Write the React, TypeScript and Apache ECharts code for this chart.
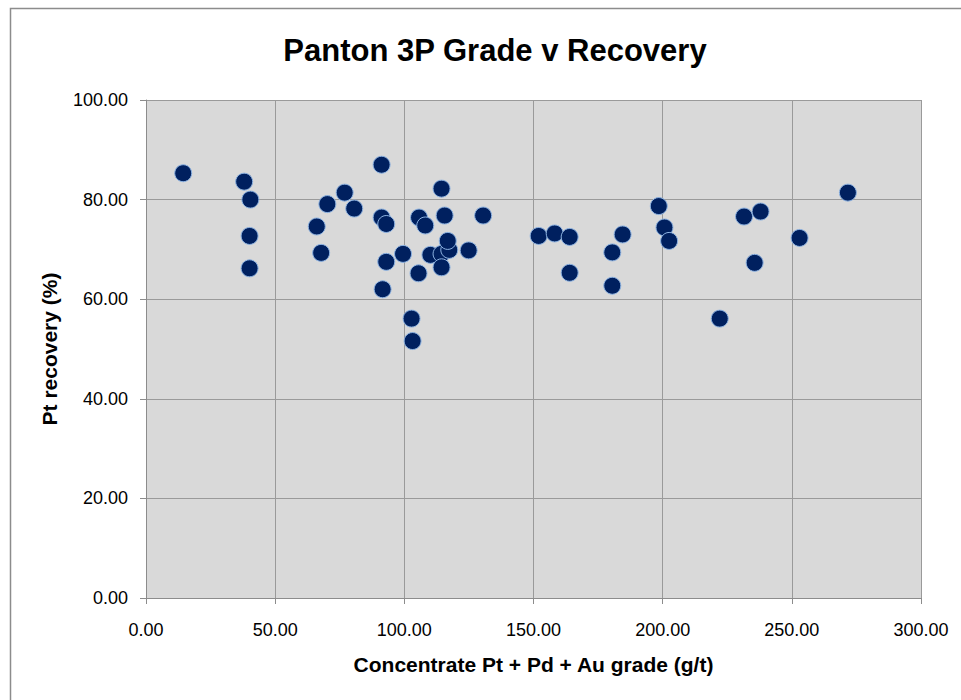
import React, { useEffect, useRef } from "react";
import * as echarts from "echarts";

const title = "Panton 3P Grade v Recovery";
const xAxisName = "Concentrate Pt + Pd + Au grade (g/t)";
const yAxisName = "Pt recovery (%)";

const grade = [
  14.4, 38.0, 40.4, 40.1, 40.1, 91.2, 76.9, 70.2, 80.6, 66.1, 67.8, 91.2, 93.0, 99.5, 93.0, 91.6,
  105.7, 108.1, 105.5, 102.8, 103.2, 110.1, 114.4, 115.6, 130.5, 114.4, 117.4, 116.8, 124.9, 114.4,
  152.0, 158.2, 164.0, 164.0, 184.5, 180.5, 180.5, 198.5, 200.7, 202.5, 222.1, 231.5, 237.9, 235.6,
  253.0, 271.7,
];
const recovery = [
  85.3, 83.6, 80.0, 72.7, 66.2, 87.0, 81.4, 79.1, 78.2, 74.6, 69.3, 76.4, 75.1, 69.1, 67.5, 62.0,
  76.4, 74.8, 65.2, 56.1, 51.6, 68.9, 82.2, 76.8, 76.8, 69.1, 69.9, 71.7, 69.8, 66.4,
  72.7, 73.2, 72.5, 65.3, 73.0, 69.4, 62.7, 78.7, 74.4, 71.7, 56.1, 76.6, 77.6, 67.3,
  72.3, 81.4,
];

export default function App() {
  const ref = useRef<HTMLDivElement>(null);
  useEffect(() => {
    if (!ref.current) return;
    const chart = echarts.init(ref.current, null, { renderer: "svg" });
    const data = grade.map((g, i) => [g, recovery[i]]);
    const font = "'Liberation Sans', sans-serif";
    chart.setOption({
      animation: false,
      backgroundColor: "#ffffff",
      title: {
        text: title,
        left: 490,
        top: 30,
        textAlign: "center",
        textStyle: { fontFamily: font, fontSize: 31, fontWeight: "bold", color: "#000" },
      },
      graphic: [
        {
          type: "rect",
          shape: { x: 10.5, y: 8.5, width: 1000, height: 1000 },
          style: { fill: "none", stroke: "#8c8c8c", lineWidth: 1.5 },
          silent: true,
        },
      ],
      grid: { left: 146, top: 100, width: 775, height: 498, show: true, backgroundColor: "#d9d9d9", borderWidth: 0 },
      xAxis: {
        type: "value",
        min: 0,
        max: 300,
        interval: 50,
        name: xAxisName,
        nameLocation: "middle",
        nameGap: 56,
        nameTextStyle: { fontFamily: font, fontSize: 21, fontWeight: "bold", color: "#000" },
        axisLine: { show: true, onZero: false, lineStyle: { color: "#8c8c8c", width: 1 } },
        axisTick: { show: true, length: 6, lineStyle: { color: "#8c8c8c" } },
        axisLabel: {
          margin: 23,
          fontFamily: font,
          fontSize: 18,
          color: "#000",
          formatter: (v: number) => v.toFixed(2),
        },
        splitLine: { show: true, lineStyle: { color: "#9a9a9a", width: 1 } },
      },
      yAxis: {
        type: "value",
        min: 0,
        max: 100,
        interval: 20,
        name: yAxisName,
        nameLocation: "middle",
        nameGap: 86,
        nameTextStyle: { fontFamily: font, fontSize: 21, fontWeight: "bold", color: "#000" },
        axisLine: { show: true, onZero: false, lineStyle: { color: "#8c8c8c", width: 1 } },
        axisTick: { show: true, length: 6, lineStyle: { color: "#8c8c8c" } },
        axisLabel: {
          margin: 18,
          fontFamily: font,
          fontSize: 18,
          color: "#000",
          formatter: (v: number) => v.toFixed(2),
        },
        splitLine: { show: true, lineStyle: { color: "#9a9a9a", width: 1 } },
      },
      series: [
        {
          type: "scatter",
          data,
          symbol: "circle",
          symbolSize: 17,
          itemStyle: { color: "#00205f", opacity: 1, borderColor: "#8db3e2", borderWidth: 1 },
        },
      ],
    });
    return () => chart.dispose();
  }, []);
  return (
    <div
      ref={ref}
      style={{ position: "absolute", left: 0, top: 0, width: 961, height: 700 }}
    />
  );
}
